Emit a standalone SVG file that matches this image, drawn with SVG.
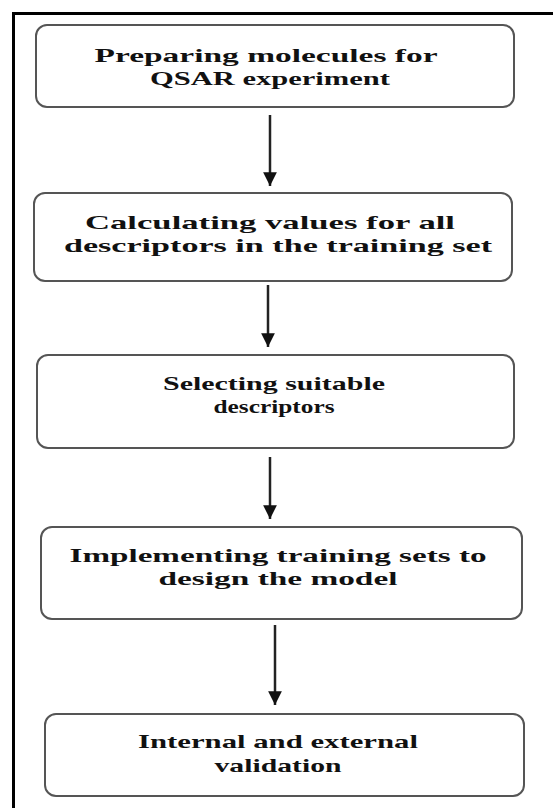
<svg xmlns="http://www.w3.org/2000/svg" width="553" height="808" viewBox="0 0 553 808">
<defs>
<style>
.box{fill:#fff;stroke:#555;stroke-width:2}
.t{font-family:"Liberation Serif","Times New Roman",serif;font-weight:bold;font-size:19px;fill:#111;text-anchor:middle}
.c{stroke:#222;stroke-width:2.5;fill:none}
.frame{stroke:#000;stroke-width:3;fill:none}
</style>
<marker id="ah" viewBox="0 0 10 10" refX="10" refY="5" markerWidth="5.5" markerHeight="5.5" orient="auto" markerUnits="strokeWidth">
<path d="M0,0 L10,5 L0,10 z" fill="#111"/>
</marker>
</defs>
<rect width="553" height="808" fill="#fff"/>
<path class="frame" d="M13.5,808 V13.5 H553"/>
<g id="n1"><rect class="box" x="36" y="25" width="478" height="82" rx="11"/>
<text class="t" x="266" y="62" textLength="343" lengthAdjust="spacingAndGlyphs">Preparing molecules for</text>
<text class="t" x="270" y="85" textLength="240" lengthAdjust="spacingAndGlyphs">QSAR experiment</text></g>
<g id="n2"><rect class="box" x="34" y="193" width="478" height="88" rx="11"/>
<text class="t" x="270" y="229" textLength="370" lengthAdjust="spacingAndGlyphs">Calculating values for all</text>
<text class="t" x="278" y="252" textLength="428" lengthAdjust="spacingAndGlyphs">descriptors in the training set</text></g>
<g id="n3"><rect class="box" x="37" y="355" width="477" height="93" rx="11"/>
<text class="t" x="274" y="390" textLength="222" lengthAdjust="spacingAndGlyphs">Selecting suitable</text>
<text class="t" x="274" y="413" textLength="121" lengthAdjust="spacingAndGlyphs">descriptors</text></g>
<g id="n4"><rect class="box" x="41" y="527" width="481" height="92" rx="11"/>
<text class="t" x="278" y="562" textLength="417" lengthAdjust="spacingAndGlyphs">Implementing training sets to</text>
<text class="t" x="278" y="585" textLength="239" lengthAdjust="spacingAndGlyphs">design the model</text></g>
<g id="n5"><rect class="box" x="45" y="714" width="479" height="82" rx="11"/>
<text class="t" x="278" y="748" textLength="280" lengthAdjust="spacingAndGlyphs">Internal and external</text>
<text class="t" x="278" y="772" textLength="127" lengthAdjust="spacingAndGlyphs">validation</text></g>
<g id="connectors">
<line class="c" x1="270" y1="115" x2="270" y2="186" marker-end="url(#ah)"/>
<line class="c" x1="268" y1="285" x2="268" y2="347" marker-end="url(#ah)"/>
<line class="c" x1="270" y1="457" x2="270" y2="519" marker-end="url(#ah)"/>
<line class="c" x1="275" y1="625" x2="275" y2="705" marker-end="url(#ah)"/>
</g>
</svg>
